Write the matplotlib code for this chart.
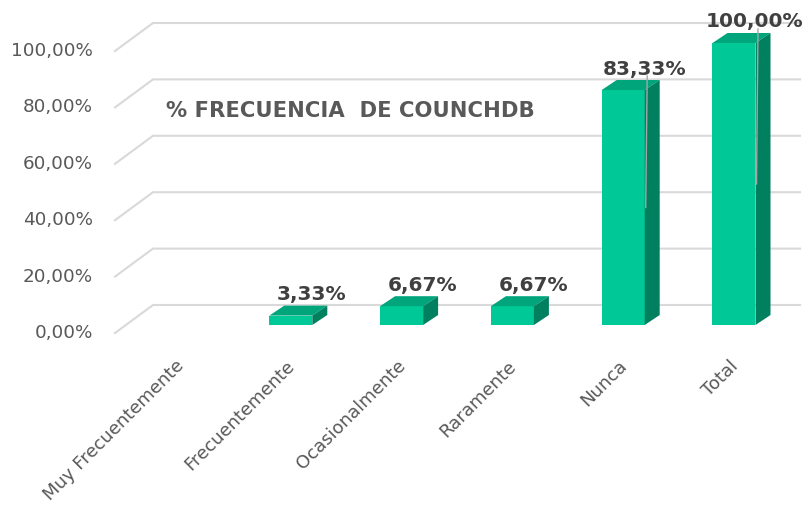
import numpy as np
import matplotlib
matplotlib.use("Agg")
import matplotlib.pyplot as plt
from matplotlib.patches import Polygon

# datos del grafico
categorias = ["Muy Frecuentemente", "Frecuentemente", "Ocasionalmente",
              "Raramente", "Nunca", "Total"]
porcentajes = [0.0, 3.33, 6.67, 6.67, 83.33, 100.00]
etiquetas = ["", "3,33%", "6,67%", "6,67%", "83,33%", "100,00%"]
ticks_y = [0, 20, 40, 60, 80, 100]
ticks_y_txt = ["0,00%", "20,00%", "40,00%", "60,00%", "80,00%", "100,00%"]
titulo = "% FRECUENCIA  DE COUNCHDB"

# escala en pixeles (figura 812x513)
W, H = 812, 513
PX_X = 110.8     # px por categoria
PX_Y = 2.82      # px por punto porcentual
X0_PX = 180      # centro de la primera categoria
Y0_PX = 325      # base frontal de las barras

def dx(px):
    return px / PX_X

def dy(px):
    return px / PX_Y

fig = plt.figure(figsize=(W / 100, H / 100), dpi=100)
ax = fig.add_axes([0, 0, 1, 1])
ax.set_xlim(-X0_PX / PX_X, (W - X0_PX) / PX_X)
ax.set_ylim((Y0_PX - H) / PX_Y, Y0_PX / PX_Y)
ax.axis("off")

frente = "#00C896"
arriba = "#00A57B"
lado = "#00805F"
gris = "#D9D9D9"

# lineas de cuadricula (pared del fondo + diagonal del piso)
x_izq = dx(115 - X0_PX)
x_fondo = dx(153 - X0_PX)
x_der = dx(800 - X0_PX)
for v, t in zip(ticks_y, ticks_y_txt):
    yb = v + dy(20)
    yf = v - dy(8)
    ax.plot([x_izq, x_fondo, x_der], [yf, yb, yb], color=gris, lw=1.5,
            solid_joinstyle="miter", zorder=1)
    ax.text(dx(93 - X0_PX), yf, t, ha="right", va="center",
            fontsize=13.2, color="#595959")

# barras con efecto 3D
ancho = dx(43)
prof_x = dx(15)
prof_y = dy(10)
xs = np.arange(len(categorias))
ax.bar(xs, porcentajes, width=ancho, color=frente, zorder=3)
for x, v in zip(xs, porcentajes):
    if v <= 0:
        continue
    l, r = x - ancho / 2, x + ancho / 2
    ax.add_patch(Polygon([[l, v], [r, v], [r + prof_x, v + prof_y],
                          [l + prof_x, v + prof_y]], closed=True,
                         facecolor=arriba, edgecolor="none", zorder=3))
    ax.add_patch(Polygon([[r, 0], [r + prof_x, prof_y],
                          [r + prof_x, v + prof_y], [r, v]], closed=True,
                         facecolor=lado, edgecolor="none", zorder=3))

# etiquetas de datos
for x, v, e in zip(xs, porcentajes, etiquetas):
    if not e:
        continue
    lx = x + dx(21)
    ly = v + prof_y + dy(11)
    if v > 50:
        ax.plot([lx + dx(3), x + ancho / 2 + dx(1)], [ly - dy(7), v / 2],
                color="#A6A6A6", lw=1, zorder=4)
    ax.text(lx, ly, e, ha="center", va="center", fontsize=14.5,
            fontweight="bold", color="#404040", zorder=5)

# titulo dentro del grafico
ax.text(dx(166 - X0_PX), dy(Y0_PX - 111), titulo, ha="left", va="center",
        fontsize=15.2, fontweight="heavy", color="#595959")

# etiquetas del eje x rotadas
for x, c in zip(xs, categorias):
    ax.text(x - dx(5), dy(Y0_PX - 357), c, rotation=45, ha="right",
            va="top", rotation_mode="anchor", fontsize=13, color="#595959")

fig.savefig("out.png", dpi=100)
